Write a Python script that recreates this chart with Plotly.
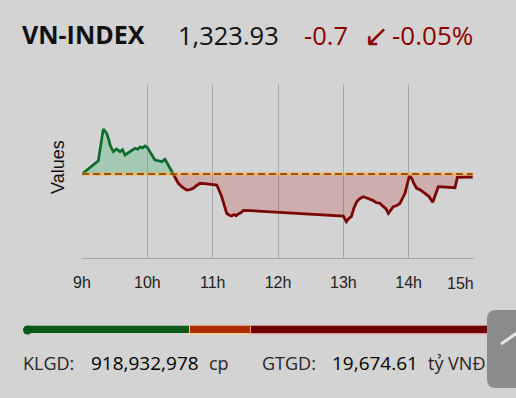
import plotly.graph_objects as go

# ---------------- data ----------------
ref_value = 1324.63          # reference (previous close)
last_value = 1323.93
change = -0.7
change_pct = -0.05

times = [9.00, 9.25, 9.326, 9.378, 9.41, 9.429, 9.479, 9.53, 9.582, 9.62, 9.658, 9.70,
         9.735, 9.77, 9.811, 9.85, 9.89, 9.93, 9.964, 10.00, 10.041, 10.08, 10.117,
         10.17, 10.22, 10.27, 10.321, 10.397, 10.474, 10.54, 10.603, 10.65, 10.704,
         10.75, 10.806, 10.88, 10.959, 11.062, 11.10, 11.138, 11.18, 11.215, 11.25,
         11.291, 11.33, 11.36, 11.392, 11.43, 11.469, 11.5, 13.0, 13.046, 13.085,
         13.123, 13.16, 13.205, 13.25, 13.306, 13.35, 13.408, 13.45, 13.50, 13.561,
         13.60, 13.65, 13.689, 13.73, 13.765, 13.82, 13.867, 13.944, 14.01, 14.046,
         14.08, 14.123, 14.18, 14.25, 14.31, 14.368, 14.454, 14.709, 14.745, 14.98]

values = [1324.63, 1327.72, 1335.10, 1334.10, 1332.60, 1331.37, 1329.82, 1330.44, 1329.82,
          1330.30, 1329.05, 1329.50, 1329.82, 1330.10, 1330.61, 1330.40, 1330.90, 1330.70,
          1331.14, 1330.80, 1329.82, 1328.90, 1327.89, 1327.70, 1327.49, 1328.05, 1326.72,
          1324.63, 1322.47, 1321.50, 1320.91, 1321.00, 1321.30, 1321.90, 1322.47, 1322.40,
          1322.30, 1322.07, 1320.80, 1319.35, 1317.20, 1315.49, 1315.10, 1314.86, 1315.20,
          1314.90, 1315.33, 1315.60, 1316.10, 1316.19, 1314.86, 1313.54, 1314.30, 1314.70,
          1316.60, 1318.19, 1318.90, 1319.35, 1319.10, 1318.75, 1318.50, 1318.00, 1317.82,
          1317.20, 1316.60, 1315.49, 1316.50, 1317.03, 1317.30, 1317.82, 1320.14, 1324.16,
          1323.63, 1322.40, 1321.30, 1320.90, 1320.14, 1319.40, 1318.05, 1321.68, 1321.44,
          1323.86, 1323.93]

hour_ticks = [9, 10, 11, 12, 13, 14, 15]
hour_labels = ["9h", "10h", "11h", "12h", "13h", "14h", "15h"]

breadth_labels = ["Tăng", "Đứng giá", "Giảm"]
breadth_values = [164, 62, 244]
breadth_colors = ["#0b5a18", "#ad2b00", "#6d0000"]
breadth_edges = ["#d3d3d3", "#f1cf86", "#e3a3a3"]

volume_text = "918,932,978"
value_text = "19,674.61"

# ---------------- layout helpers ----------------
W, H = 516, 398
BG = "#d3d3d3"


def PX(x):
    return x / W


def PY(y):
    return 1 - y / H


# split where the line crosses the reference
cross = next(i for i, v in enumerate(values) if i > 0 and v < ref_value) - 1
t_up, v_up = times[:cross + 1], values[:cross + 1]
t_dn, v_dn = times[cross:], values[cross:]

fig = go.Figure()

# green area
fig.add_trace(go.Scatter(x=t_up, y=[ref_value] * len(t_up), mode="lines",
                         line=dict(width=0), hoverinfo="skip", showlegend=False))
fig.add_trace(go.Scatter(x=t_up, y=v_up, mode="lines", fill="tonexty",
                         fillcolor="rgba(70,185,115,0.33)",
                         line=dict(color="#0d6b2c", width=2.7), showlegend=False))
# red area
fig.add_trace(go.Scatter(x=t_dn, y=[ref_value] * len(t_dn), mode="lines",
                         line=dict(width=0), hoverinfo="skip", showlegend=False))
fig.add_trace(go.Scatter(x=t_dn, y=v_dn, mode="lines", fill="tonexty",
                         fillcolor="rgba(190,40,40,0.22)",
                         line=dict(color="#7a0606", width=2.8), showlegend=False))
# reference dashed line
fig.add_trace(go.Scatter(x=[times[0], times[-1]], y=[ref_value, ref_value], mode="lines",
                         line=dict(color="rgba(245,175,70,0.55)", width=3.5),
                         hoverinfo="skip", showlegend=False))
fig.add_trace(go.Scatter(x=[times[0], times[-1]], y=[ref_value, ref_value], mode="lines",
                         line=dict(color="#a35200", width=2, dash="7px,4px"),
                         hoverinfo="skip", showlegend=False))

# market breadth bar
for lab, val, col, edge in zip(breadth_labels, breadth_values, breadth_colors, breadth_edges):
    fig.add_trace(go.Bar(x=[val], y=[0], orientation="h", name=lab, xaxis="x2", yaxis="y2",
                         marker=dict(color=col, line=dict(color=edge, width=1.5)),
                         width=1, showlegend=False, hoverinfo="skip"))

y_top_px, y_bot_px, k = 84, 258, 4.3
y_range = [ref_value - (y_bot_px - 174) / k, ref_value + (174 - y_top_px) / k]

fig.update_layout(
    width=W, height=H,
    margin=dict(l=0, r=0, t=0, b=0, pad=0, autoexpand=False),
    paper_bgcolor=BG, plot_bgcolor=BG,
    barmode="stack", bargap=0, barcornerradius=4,
    xaxis=dict(domain=[PX(82), PX(474)], range=[9, 15], tickvals=hour_ticks,
               ticktext=hour_labels[:-1] + [""], showgrid=True, gridcolor="#a6a6a6",
               gridwidth=1, showline=True, linecolor="#a6a6a6", linewidth=1,
               zeroline=False, ticks="", ticklabelstandoff=10, automargin=False,
               tickfont=dict(family="Liberation Sans, Arial", size=16, color="#222")),
    yaxis=dict(domain=[PY(258), PY(84)], range=y_range, showgrid=False,
               showticklabels=False, zeroline=False, showline=False, ticks="",
               automargin=False),
    xaxis2=dict(domain=[PX(27), PX(493)], range=[0, sum(breadth_values)], visible=False,
                automargin=False),
    yaxis2=dict(domain=[PY(334.5), PY(325.5)], range=[-0.5, 0.5], visible=False,
                automargin=False),
)

# left round cap of breadth bar
fig.add_shape(type="circle", xref="paper", yref="paper",
              x0=PX(23), x1=PX(32), y0=PY(334.5), y1=PY(325.5),
              fillcolor=breadth_colors[0], line=dict(width=0))

# scroll-to-top button (partly off-screen)
bx0, bx1, by0, by1, r = 487, 518, 310, 388, 9
path = (f"M {PX(bx0 + r)} {PY(by0)} L {PX(bx1)} {PY(by0)} L {PX(bx1)} {PY(by1)} "
        f"L {PX(bx0 + r)} {PY(by1)} Q {PX(bx0)} {PY(by1)} {PX(bx0)} {PY(by1 - r)} "
        f"L {PX(bx0)} {PY(by0 + r)} Q {PX(bx0)} {PY(by0)} {PX(bx0 + r)} {PY(by0)} Z")
fig.add_shape(type="path", xref="paper", yref="paper", path=path,
              fillcolor="#8b8b8b", line=dict(width=0))
fig.add_shape(type="line", xref="paper", yref="paper", x0=PX(501), y0=PY(344),
              x1=PX(517), y1=PY(333), line=dict(color="#e6e6e6", width=3))

OS = "Open Sans, Noto Sans, sans-serif"


def ann(text, x, y, size, color="#111", family=OS, anchor="left", weight=None, **kw):
    font = dict(family=family, size=size, color=color)
    if weight:
        font["weight"] = weight
    fig.add_annotation(text=text, x=PX(x), y=PY(y), xref="paper", yref="paper",
                       xanchor=anchor, yanchor="middle", showarrow=False, borderpad=0,
                       font=font, **kw)


# header
ann("<b>VN-INDEX</b>", 21, 34, 25)
ann(f"{last_value:,.2f}", 177, 35, 25.5)
ann(f"{change:.1f}", 303, 35, 25.5, color="#8b0000")
ann("↙", 376, 35, 30, color="#8b0000", family="DejaVu Sans", anchor="center")
ann(f"{change_pct:.2f}%", 391, 35, 26, color="#8b0000")

# 15h label (shifted inside)
ann(hour_labels[-1], 460, 283, 16, color="#222", family="Liberation Sans, Arial", anchor="center")

# y axis title
ann("Values", 58, 167, 18, color="#111", family="Liberation Sans, Arial", anchor="center",
    textangle=-90)

# footer
ann("KLGD:", 22, 363, 18, color="#262626")
ann(volume_text, 90, 363, 19, color="#000")
ann("cp", 208, 363, 18, color="#262626")
ann("GTGD:", 261, 363, 18, color="#262626")
ann(value_text, 331, 363, 19, color="#000")
ann("tỷ VNĐ", 427, 363, 18, color="#262626")

fig.write_html(
    "out.html",
    config={"displayModeBar": False},
    post_script="document.body.style.margin='0';document.body.style.overflow='hidden';",
)
